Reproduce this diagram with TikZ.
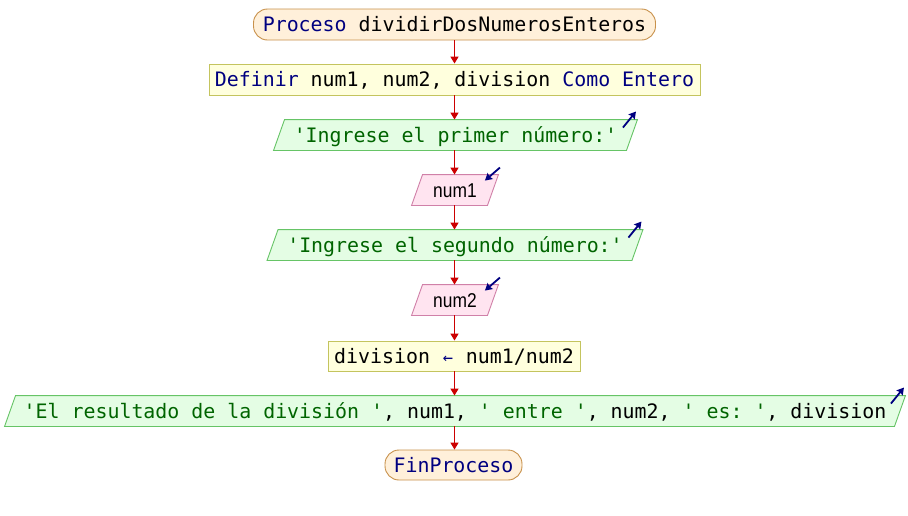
\documentclass[tikz,border=0pt]{standalone}
\usepackage{fontspec}
\setmonofont{DejaVu Sans Mono}
\newfontfamily\idfont[FakeStretch=0.87]{Liberation Sans}
\usetikzlibrary{arrows.meta,calc,backgrounds}

\definecolor{kwblue}{HTML}{000080}
\definecolor{strgreen}{HTML}{006400}
\definecolor{flowred}{HTML}{CC0000}
\definecolor{termfill}{HTML}{FFF0DA}
\definecolor{termline}{HTML}{C8914B}
\definecolor{procfill}{HTML}{FFFFDD}
\definecolor{procline}{HTML}{C4C45E}
\definecolor{outfill}{HTML}{E4FDE4}
\definecolor{outline}{HTML}{66C466}
\definecolor{infill}{HTML}{FFE4F0}
\definecolor{inline}{HTML}{D080A8}

\newcommand\kw[1]{\textcolor{kwblue}{#1}}
\newcommand\str[1]{\textcolor{strgreen}{#1}}
\newcommand\asignar{\makebox[12pt]{\textcolor{kwblue}{\fontsize{17}{17}\selectfont ←}}}

% slanted frame around a text node: #1 node, #2 style
\newcommand\slantframe[2]{%
  \path[#2] ($(#1.south west)+(-5.5,0)$) -- ($(#1.north west)+(5.5,0)$)
    -- ($(#1.north east)+(5.5,0)$) -- ($(#1.south east)+(-5.5,0)$) -- cycle;}

\tikzset{
  codefont/.style={font=\ttfamily\fontsize{19.9}{24}\selectfont},
  box/.style={codefont, text height=15pt, text depth=1pt, inner ysep=0pt, inner xsep=0pt, line width=0.9pt},
  term/.style={box, rectangle, rounded corners=14pt, draw=termline, fill=termfill, minimum height=31pt},
  proc/.style={box, rectangle, draw=procline, fill=procfill, minimum height=31pt},
  para/.style={box, rectangle, minimum height=30pt},
  inbox/.style={para, font=\idfont\fontsize{20}{24}\selectfont},
  outframe/.style={draw=outline, fill=outfill, line width=0.9pt},
  inframe/.style={draw=inline, fill=infill, line width=0.9pt},
  flow/.style={draw=flowred, line width=1.4pt, -{Triangle[length=7pt,width=8pt]}},
  icon/.style={draw=kwblue, line width=1.8pt, -{Stealth[length=7pt,width=8pt,inset=1pt]}}
}

\begin{document}
\begin{tikzpicture}[x=1pt,y=-1pt]
\useasboundingbox (0,0) rectangle (908,515);

% nodes of the flowchart, top to bottom
\node[term, minimum width=402pt] (ini) at (454.5,24.5) {\kw{Proceso} dividirDosNumerosEnteros};
\node[proc, minimum width=491pt] (def) at (454.5,79.5) {\kw{Definir} num1, num2, division \kw{Como Entero}};
\node[para, minimum width=352pt] (o1) at (455.5,135) {\str{'Ingrese el primer número:'}};
\node[inbox, minimum width=75pt] (n1) at (455,190) {num1};
\node[para, minimum width=364pt] (o2) at (455,245) {\str{'Ingrese el segundo número:'}};
\node[inbox, minimum width=75pt] (n2) at (455,300) {num2};
\node[proc, minimum width=252pt, minimum height=30pt] (asg) at (454,356) {division \asignar{} num1/num2};
\node[para, minimum width=889pt] (o3) at (455,411) {\str{'El resultado de la división '}, num1, \str{' entre '}, num2, \str{' es: '}, division};
\node[term, minimum width=137pt, minimum height=30pt] (fin) at (453.5,465) {\kw{FinProceso}};

% white page, then slanted frames for input and output behind the text
\begin{scope}[on background layer]
  \fill[white] (0,0) rectangle (908,515);
  \foreach \o in {o1, o2, o3} {\slantframe{\o}{outframe}}
  \foreach \i in {n1, n2} {\slantframe{\i}{inframe}}
\end{scope}

% control flow
\foreach \a/\b in {ini/def, def/o1, o1/n1, n1/o2, o2/n2, n2/asg, asg/o3, o3/fin}
  \draw[flow] (\a.south -| 454.5,0) -- (\b.north -| 454.5,0);

% output markers
\foreach \o in {o1, o2, o3}
  \draw[icon] ($(\o.north east)+(-9,8)$) -- ($(\o.north east)+(4,-8)$);

% input markers
\foreach \i in {n1, n2}
  \draw[icon] ($(\i.north east)+(7,-7)$) -- ($(\i.north east)+(-8,6)$);
\end{tikzpicture}
\end{document}
